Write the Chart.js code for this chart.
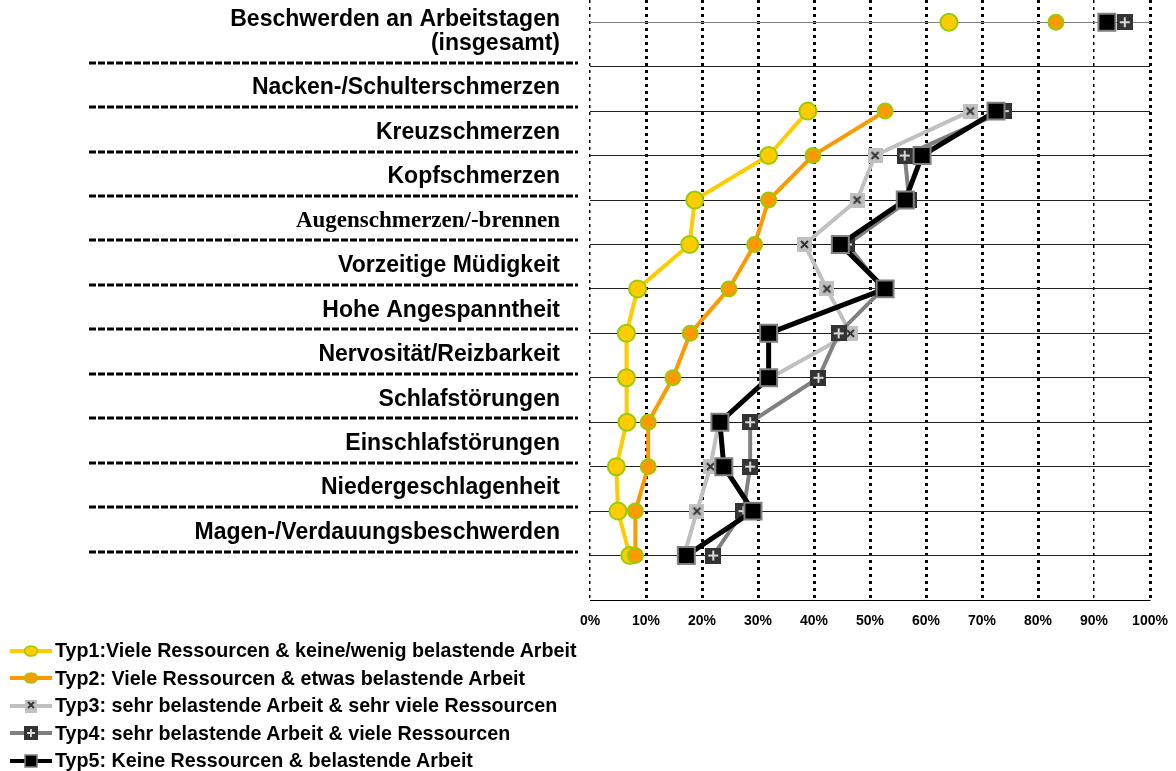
<!DOCTYPE html>
<html>
<head>
<meta charset="utf-8">
<script src="https://cdn.jsdelivr.net/npm/chart.js@4.4.1/dist/chart.umd.min.js"></script>
<style>
    body { margin: 0; background: #fff; }
    #wrap { position: relative; width: 1176px; height: 771px; }
    #legend { position: absolute; left: 0; top: 637px; font: bold 19.7px "Liberation Sans", Arial, sans-serif; color: #000; }
    .item { display: flex; align-items: center; height: 27.5px; white-space: nowrap; }
    .item svg { margin-left: 10px; margin-right: 1px; }
</style>
</head>
<body>
<div id="wrap">
    <canvas id="chart" width="1176" height="640"></canvas>
    <div id="legend"></div>
</div>
<script>
// categories, top to bottom (first one is the total row, drawn apart)
var categories = [
    ["Beschwerden an Arbeitstagen", "(insgesamt)"],
    "Nacken-/Schulterschmerzen",
    "Kreuzschmerzen",
    "Kopfschmerzen",
    "Augenschmerzen/-brennen",
    "Vorzeitige Müdigkeit",
    "Hohe Angespanntheit",
    "Nervosität/Reizbarkeit",
    "Schlafstörungen",
    "Einschlafstörungen",
    "Niedergeschlagenheit",
    "Magen-/Verdauungsbeschwerden"
];
var seriesNames = [
    "Typ1:Viele Ressourcen & keine/wenig belastende Arbeit",
    "Typ2: Viele Ressourcen & etwas belastende Arbeit",
    "Typ3: sehr belastende Arbeit & sehr viele Ressourcen",
    "Typ4: sehr belastende Arbeit & viele Ressourcen",
    "Typ5: Keine Ressourcen & belastende Arbeit"
];
// percent values per category
var typ1 = [64.1, 38.9, 31.9, 18.7, 17.8, 8.5, 6.5, 6.5, 6.6, 4.7, 5.0, 7.1];
var typ2 = [83.2, 52.7, 39.8, 31.9, 29.4, 24.8, 17.9, 14.8, 10.4, 10.4, 8.1, 8.1];
var typ3 = [92.0, 67.9, 50.9, 47.7, 38.3, 42.3, 46.5, 32.2, 23.0, 21.5, 19.1, 16.8];
var typ4 = [95.5, 73.9, 56.2, 57.0, 45.9, 52.3, 44.4, 40.8, 28.6, 28.6, 27.4, 22.0];
var typ5 = [92.3, 72.5, 59.3, 56.3, 44.7, 52.7, 31.9, 31.9, 23.2, 23.9, 29.1, 17.2];
var xTicks = [0, 10, 20, 30, 40, 50, 60, 70, 80, 90, 100];

// row slots on the y scale: total row at 0, one empty slot, then the rest
var rowPos = categories.map(function (c, i) { return i === 0 ? 0 : i + 1; });
var rowTicks = [0, 1, 2, 3, 4, 5, 6, 7, 8, 9, 10, 11, 12, 13];

var sansFont = { family: "'Liberation Sans', Arial, sans-serif", size: 23, weight: "bold", lineHeight: 1.05 };
var serifFont = { family: "'Liberation Serif', 'Times New Roman', serif", size: 23, weight: "bold", lineHeight: 1.05 };

function toPoints(values) {
    var pts = [];
    values.forEach(function (v, i) {
        if (i === 1) pts.push({ x: null, y: 1 }); // gap after the total row
        pts.push({ x: v, y: rowPos[i] });
    });
    return pts;
}

function squareMarker(size, fill, glyph, glyphColor) {
    var c = document.createElement("canvas");
    c.width = size;
    c.height = size;
    var g = c.getContext("2d");
    g.fillStyle = fill;
    g.fillRect(0, 0, size, size);
    g.strokeStyle = glyphColor;
    g.lineWidth = 2;
    g.beginPath();
    var a = 4, b = size - 4, m = size / 2;
    if (glyph === "x") {
        g.moveTo(a, a); g.lineTo(b, b);
        g.moveTo(b, a); g.lineTo(a, b);
    } else {
        g.moveTo(a - 1, m); g.lineTo(b + 1, m);
        g.moveTo(m, a - 1); g.lineTo(m, b + 1);
    }
    g.stroke();
    return c;
}

var styles = [
    { line: "#FFCC00", fill: "#FFCC00", border: "#99CC00", point: "circle", radius: 8.5, width: 4 },
    { line: "#FF9900", fill: "#FF9900", border: "#99CC00", point: "circle", radius: 7.5, width: 4 },
    { line: "#C0C0C0", fill: "#C0C0C0", border: "#C0C0C0", point: squareMarker(15, "#C0C0C0", "x", "#333333"), radius: 8, width: 4 },
    { line: "#808080", fill: "#333333", border: "#333333", point: squareMarker(16, "#333333", "+", "#D9D9D9"), radius: 8, width: 4 },
    { line: "#000000", fill: "#000000", border: "#808080", point: "rect", radius: 12, width: 5 }
];
var seriesValues = [typ1, typ2, typ3, typ4, typ5];

var datasets = seriesValues.map(function (vals, i) {
    var s = styles[i];
    return {
        label: seriesNames[i],
        data: toPoints(vals),
        borderColor: s.line,
        borderWidth: s.width,
        backgroundColor: s.fill,
        pointBackgroundColor: s.fill,
        pointBorderColor: s.border,
        pointBorderWidth: 2,
        pointStyle: s.point,
        pointRadius: s.radius,
        pointHoverRadius: s.radius,
        tension: 0,
        spanGaps: false,
        order: 5 - i
    };
});

// dashed rules under the row labels on the left
var labelRules = {
    id: "labelRules",
    afterDraw: function (chart) {
        var ctx = chart.ctx, yScale = chart.scales.y;
        ctx.save();
        ctx.strokeStyle = "#000";
        ctx.lineWidth = 3;
        ctx.setLineDash([7, 2]);
        for (var v = 1; v <= 12; v++) {
            var py = Math.round(yScale.getPixelForValue(v)) - 4;
            ctx.beginPath();
            ctx.moveTo(89, py);
            ctx.lineTo(578, py);
            ctx.stroke();
        }
        ctx.restore();
    }
};

new Chart(document.getElementById("chart").getContext("2d"), {
    type: "line",
    data: { datasets: datasets },
    plugins: [labelRules],
    options: {
        responsive: false,
        animation: false,
        layout: { autoPadding: false, padding: { top: 0, right: 26, bottom: 0, left: 0 } },
        plugins: { legend: { display: false } },
        scales: {
            x: {
                type: "linear",
                min: 0,
                max: 100,
                afterBuildTicks: function (scale) {
                    scale.ticks = xTicks.map(function (v) { return { value: v }; });
                },
                afterFit: function (scale) {
                    scale.height = 40;
                    scale.paddingLeft = 0;
                    scale.paddingRight = 0;
                },
                ticks: {
                    padding: 13,
                    color: "#000",
                    font: { family: "'Liberation Sans', Arial, sans-serif", size: 14, weight: "bold" },
                    callback: function (v) { return v + "%"; }
                },
                grid: {
                    color: "#000",
                    lineWidth: function (c) { return (c.tick && (c.tick.value === 0 || c.tick.value === 90)) ? 1.5 : 3; },
                    drawTicks: false
                },
                border: { display: true, color: "#000", width: 1, dash: [3, 4] }
            },
            y: {
                type: "linear",
                reverse: true,
                min: -0.5,
                max: 13,
                afterBuildTicks: function (scale) {
                    scale.ticks = rowTicks.map(function (v) { return { value: v }; });
                },
                afterFit: function (scale) {
                    scale.width = 590;
                    scale.paddingTop = 0;
                    scale.paddingBottom = 0;
                },
                ticks: {
                    autoSkip: false,
                    padding: 30,
                    labelOffset: -23,
                    color: "#000",
                    font: function (c) {
                        return (c.tick && c.tick.value === rowPos[4]) ? serifFont : sansFont;
                    },
                    callback: function (v) {
                        if (v === 1) return categories[0].concat([""]);
                        var idx = rowPos.indexOf(v);
                        return idx > 0 ? categories[idx] : "";
                    }
                },
                grid: {
                    color: function (c) { return (c.tick && c.tick.value === 0) ? "#808080" : "#222"; },
                    lineWidth: 1,
                    drawTicks: false
                },
                border: { display: false }
            }
        }
    }
});

// legend: one entry per line below the chart
var legendBox = document.getElementById("legend");
styles.forEach(function (s, i) {
    var mark;
    if (s.point === "circle") {
        mark = '<ellipse cx="21" cy="8" rx="6.5" ry="5" fill="' + s.fill + '" stroke="#99CC00" stroke-width="1.5"/>';
    } else if (i === 2) {
        mark = '<rect x="15" y="2" width="12" height="13" fill="#C0C0C0"/>' +
            '<path d="M18 4 L24 10 M24 4 L18 10" stroke="#333" stroke-width="1.8"/>';
    } else if (i === 3) {
        mark = '<rect x="14" y="1" width="14" height="14" fill="#333"/>' +
            '<path d="M17 8 L25 8 M21 4 L21 12" stroke="#ddd" stroke-width="1.8"/>';
    } else {
        mark = '<rect x="15" y="2" width="12" height="12" fill="#000" stroke="#808080" stroke-width="1.5"/>';
    }
    var svg = '<svg width="44" height="16" viewBox="0 0 44 16">' +
        '<line x1="0" y1="8" x2="42" y2="8" stroke="' + s.line + '" stroke-width="4"/>' + mark + '</svg>';
    var row = document.createElement("div");
    row.className = "item";
    row.innerHTML = svg + "<span></span>";
    row.querySelector("span").textContent = seriesNames[i];
    legendBox.appendChild(row);
});
</script>
</body>
</html>
